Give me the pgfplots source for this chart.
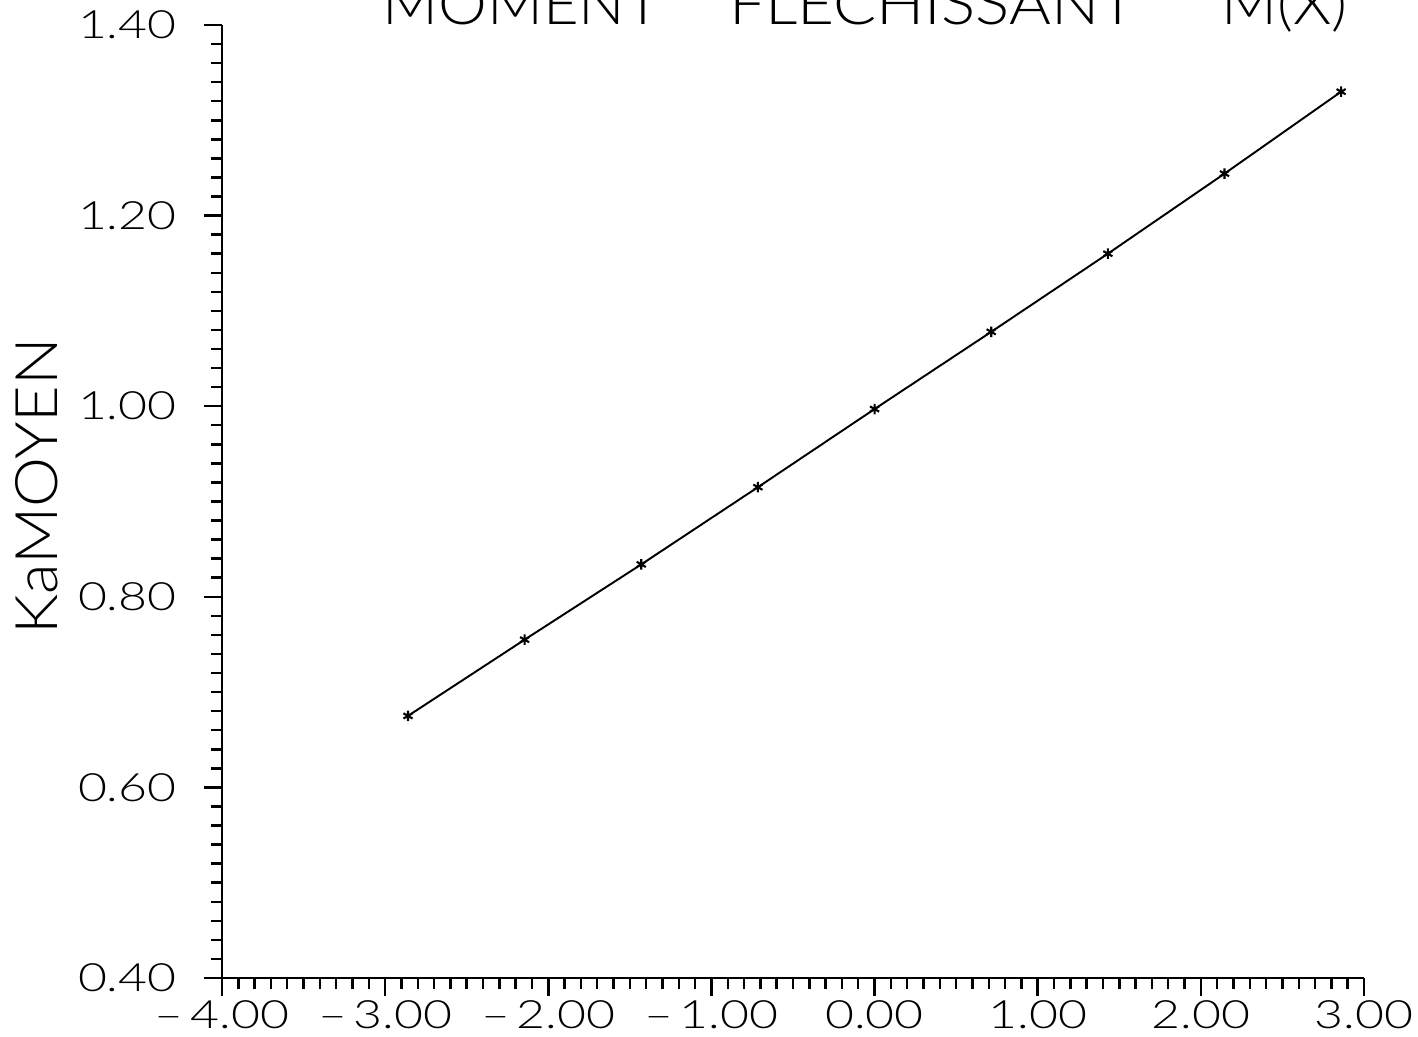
\documentclass[border=0pt]{standalone}
\usepackage{graphicx}
\usepackage{fontspec}
\setmainfont{Lato Light}[FakeStretch=1.28]
\usepackage{pgfplots}
\pgfplotsset{compat=1.18}

\begin{document}
\begin{tikzpicture}
\begin{axis}[
  name=ax, at={(0,0)}, anchor=south west,
  scale only axis, width=11.42cm, height=9.53cm,
  xmin=-4, xmax=3, ymin=0.4, ymax=1.4,
  axis lines=left,
  axis line style={-, line width=0.85pt},
  tick align=outside,
  tick style={black, line width=0.7pt},
  major tick length=0.18cm, minor tick length=0.11cm,
  xtick={-4,-3,-2,-1,0,1,2,3}, minor x tick num=9,
  xticklabels={--\,4.00, --\,3.00, --\,2.00, --\,1.00, 0.00, 1.00, 2.00, 3.00},
  ytick={0.4,0.6,0.8,1.0,1.2,1.4}, minor y tick num=9,
  yticklabels={0.40, 0.60, 0.80, 1.00, 1.20, 1.40},
  ticklabel style={font=\fontsize{11.1}{13}\selectfont},
  xticklabel style={yshift=0.08cm},
  yticklabel style={xshift=-0.15cm},
  ylabel={\scalebox{0.84}[1]{KaMOYEN}},
  ylabel style={at={(axis description cs:-0.162,0.516)}, anchor=center,
    font=\fontsize{16.7}{20}\selectfont},
  clip=false,
]
\addplot[black, line width=0.55pt, mark=asterisk, mark size=1.5pt,
  mark options={line width=0.6pt}] coordinates {
  (-2.860,0.675) (-2.145,0.755) (-1.430,0.834) (-0.715,0.915)
  (0.000,0.997) (0.715,1.078) (1.430,1.160) (2.145,1.244) (2.860,1.330)
};
% plot title, set on the top edge of the frame
\node[anchor=base west, font=\fontsize{16.7}{20}\selectfont, inner sep=0pt]
  at (axis description cs:0.140,1.0)
  {\scalebox{0.82}[1]{MOMENT}\hspace{0.68cm}\scalebox{0.85}[1]{FLECHISSANT}\hspace{0.85cm}\scalebox{0.82}[1]{M(X)}};
\end{axis}
\pgfresetboundingbox
\useasboundingbox ([shift={(-2.22cm,-0.59cm)}]ax.south west)
  rectangle ([shift={(11.96cm,9.78cm)}]ax.south west);
\end{tikzpicture}
\end{document}
